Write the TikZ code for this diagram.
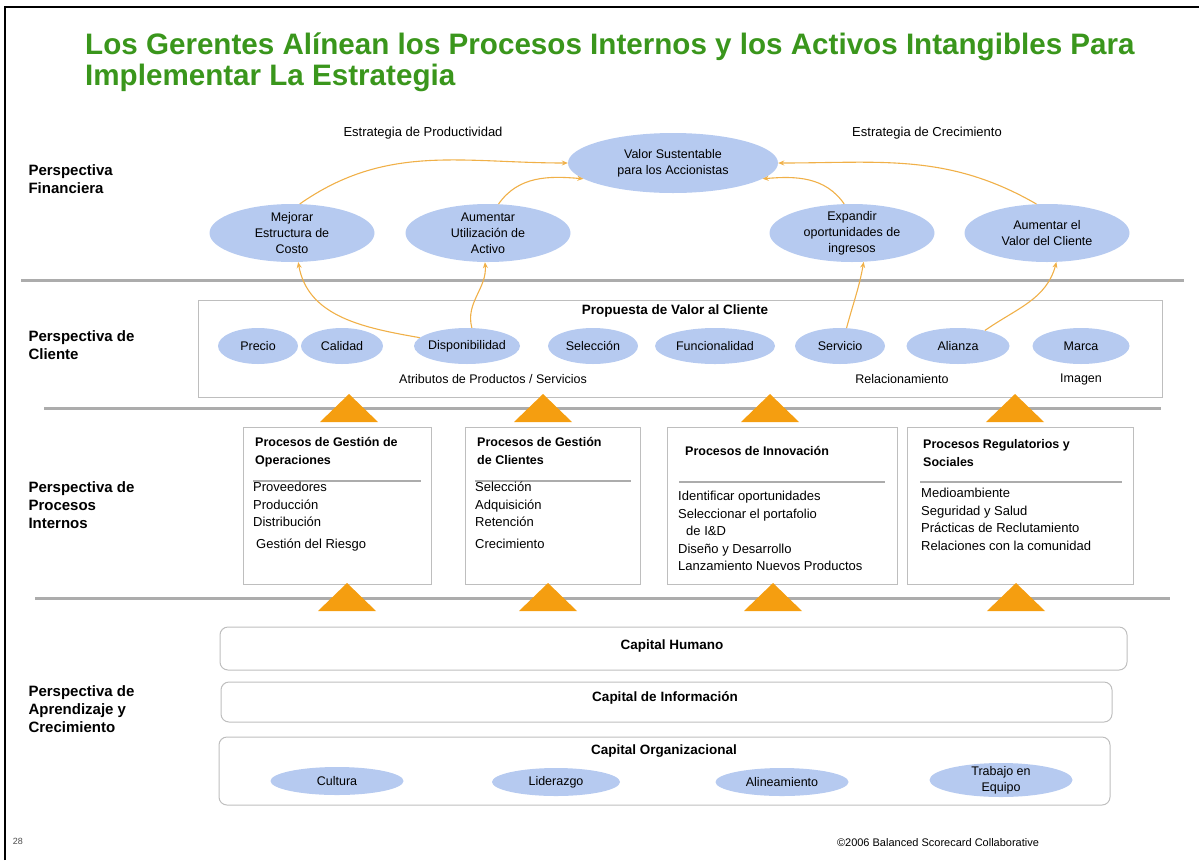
\documentclass[tikz,border=0pt]{standalone}
\usepackage{fontspec}
\setmainfont{Liberation Sans}
\usetikzlibrary{shapes.geometric,arrows.meta}
\definecolor{verdetitulo}{RGB}{58,150,28}
\definecolor{azulelipse}{RGB}{182,202,240}
\definecolor{naranjaflecha}{RGB}{240,176,72}
\definecolor{naranjatri}{RGB}{245,158,16}
\definecolor{grislinea}{RGB}{172,172,172}
\definecolor{grisborde}{RGB}{190,190,190}
\begin{document}
\begin{tikzpicture}[x=1pt, y=1pt,
        elipse/.style={ellipse, fill=azulelipse, inner sep=-2pt, align=center, font=\fontsize{12.5}{16}\selectfont},
        perspectiva/.style={anchor=west, align=left, font=\bfseries\fontsize{15}{18}\selectfont},
        caja/.style={draw=grisborde, line width=1pt, inner sep=0pt},
        capital/.style={draw=grisborde, line width=1pt, rounded corners=8pt, inner sep=0pt},
        titcaja/.style={anchor=north west, align=left, inner sep=0pt, font=\bfseries\fontsize{12.5}{18}\selectfont},
        items/.style={anchor=north west, align=left, inner sep=0pt, font=\fontsize{13}{17.5}\selectfont},
        flecha/.style={draw=naranjaflecha, line width=1.1pt, -{Stealth[length=6pt, width=5pt]}},
        separador/.style={draw=grislinea, line width=3pt},
        subrayado/.style={draw=grislinea, line width=2pt}]
    \useasboundingbox (0,0) rectangle (1199,-860);
    \draw[line width=2pt] (5,-860) -- (5,-7) -- (1199,-7);

    \node[anchor=north west, align=left, inner sep=0pt, text=verdetitulo, font=\bfseries\fontsize{29.6}{31}\selectfont] (titulo) at (85,-33)
        {Los Gerentes Alínean los Procesos Internos y los Activos Intangibles Para\\Implementar La Estrategia};

    \node[font=\fontsize{13}{16}\selectfont] (productividad) at (423,-133) {Estrategia de Productividad};
    \node[font=\fontsize{13}{16}\selectfont] (crecimiento) at (927,-133) {Estrategia de Crecimiento};

    \node[perspectiva] (pfin) at (25,-179) {Perspectiva\\Financiera};
    \node[perspectiva] (pcli) at (25,-345) {Perspectiva de\\Cliente};
    \node[perspectiva] (ppro) at (25,-505) {Perspectiva de\\Procesos\\Internos};
    \node[perspectiva] (papr) at (25,-709) {Perspectiva de\\Aprendizaje y\\Crecimiento};

    \node[elipse, minimum width=210, minimum height=60] (valor) at (673,-163) {Valor Sustentable\\para los Accionistas};
    \node[elipse, minimum width=165, minimum height=58] (mejorar) at (292,-233) {Mejorar\\Estructura de\\Costo};
    \node[elipse, minimum width=165, minimum height=58] (utilizacion) at (488,-233) {Aumentar\\Utilización de\\Activo};
    \node[elipse, minimum width=165, minimum height=58] (expandir) at (852,-233) {Expandir\\oportunidades de\\ingresos};
    \node[elipse, minimum width=165, minimum height=58] (valorcliente) at (1047,-233) {Aumentar el\\Valor del Cliente};

    \draw[separador] (21,-280) -- (1184,-280);

    \node[caja, minimum width=964, minimum height=97] (propuesta) at (680,-348.5) {};
    \node[font=\bfseries\fontsize{13.5}{16}\selectfont] (propuestatit) at (675,-311) {Propuesta de Valor al Cliente};
    \node[elipse, minimum width=80, minimum height=36] (precio) at (258,-346) {Precio};
    \node[elipse, minimum width=82, minimum height=36] (calidad) at (342,-346) {Calidad};
    \node[elipse, minimum width=106, minimum height=36] (disponibilidad) at (467,-346) {Disponibilidad};
    \node[elipse, minimum width=90, minimum height=36] (seleccion) at (593,-346) {Selección};
    \node[elipse, minimum width=120, minimum height=36] (funcionalidad) at (715,-346) {Funcionalidad};
    \node[elipse, minimum width=90, minimum height=36] (servicio) at (840,-346) {Servicio};
    \node[elipse, minimum width=103, minimum height=36] (alianza) at (958,-346) {Alianza};
    \node[elipse, minimum width=97, minimum height=36] (marca) at (1081,-346) {Marca};
    \node[font=\fontsize{12.5}{15}\selectfont] (atributos) at (493,-379) {Atributos de Productos / Servicios};
    \node[font=\fontsize{12.5}{15}\selectfont] (relacion) at (902,-379) {Relacionamiento};
    \node[font=\fontsize{12.5}{15}\selectfont] (imagen) at (1081,-379) {Imagen};

    \draw[flecha] (mejorar.75) to[out=35, in=180] (valor.west);
    \draw[flecha] (utilizacion.70) to[out=55, in=175] (valor.190);
    \draw[flecha] (expandir.105) to[out=125, in=5] (valor.-10);
    \draw[flecha] (valorcliente.110) to[out=150, in=0] (valor.east);
    \draw[flecha] (disponibilidad.170) to[out=170, in=-80] (mejorar.-78);
    \draw[flecha] (disponibilidad.75) to[out=105, in=-85] (utilizacion.-96);
    \draw[flecha] (servicio.70) to[out=75, in=-100] (expandir.-68);
    \draw[flecha] (alianza.30) to[out=35, in=-105] (valorcliente.-72);

    \draw[separador] (44,-408) -- (1161,-408);

    \fill[naranjatri] (320,-422) -- (349,-394) -- (378,-422) -- cycle;
    \fill[naranjatri] (514,-422) -- (543,-394) -- (572,-422) -- cycle;
    \fill[naranjatri] (741,-422) -- (770,-394) -- (799,-422) -- cycle;
    \fill[naranjatri] (986,-422) -- (1015,-394) -- (1044,-422) -- cycle;

    \node[caja, minimum width=188, minimum height=157] (operaciones) at (337,-505.5) {};
    \node[caja, minimum width=175, minimum height=157] (clientes) at (552.5,-505.5) {};
    \node[caja, minimum width=230, minimum height=157] (innovacion) at (782,-505.5) {};
    \node[caja, minimum width=226, minimum height=157] (regulatorios) at (1020,-505.5) {};

    \node[titcaja] (opertit) at (255,-437) {Procesos de Gestión de\\Operaciones};
    \node[titcaja] (clitit) at (477,-437) {Procesos de Gestión\\de Clientes};
    \node[titcaja] (innotit) at (685,-446) {Procesos de Innovación};
    \node[titcaja] (regutit) at (923,-439) {Procesos Regulatorios y\\Sociales};
    \draw[subrayado] (253,-481) -- (421,-481);
    \draw[subrayado] (475,-481) -- (631,-481);
    \draw[subrayado] (679,-482) -- (885,-482);
    \draw[subrayado] (920,-482) -- (1122,-482);

    \node[items] (operitems) at (253,-482) {Proveedores\\Producción\\Distribución\\[4pt]\hspace*{3pt}Gestión del Riesgo};
    \node[items] (cliitems) at (475,-482) {Selección\\Adquisición\\Retención\\[4pt]Crecimiento};
    \node[items] (innoitems) at (678,-491) {Identificar oportunidades\\Seleccionar el portafolio\\\hspace*{8pt}de I\&D\\Diseño y Desarrollo\\Lanzamiento Nuevos Productos};
    \node[items] (reguitems) at (921,-488) {Medioambiente\\Seguridad y Salud\\Prácticas de Reclutamiento\\Relaciones con la comunidad};

    \draw[separador] (35,-598) -- (1170,-598);

    \fill[naranjatri] (318,-611) -- (347,-583) -- (376,-611) -- cycle;
    \fill[naranjatri] (519,-611) -- (548,-583) -- (577,-611) -- cycle;
    \fill[naranjatri] (744,-611) -- (773,-583) -- (802,-611) -- cycle;
    \fill[naranjatri] (987,-611) -- (1016,-583) -- (1045,-611) -- cycle;

    \node[capital, minimum width=907, minimum height=43] (humano) at (673.5,-648.5) {};
    \node[capital, minimum width=891, minimum height=40] (informacion) at (666.5,-702) {};
    \node[capital, minimum width=891, minimum height=68] (organizacional) at (664.5,-771) {};
    \node[font=\bfseries\fontsize{13.5}{16}\selectfont] (humanotit) at (672,-646) {Capital Humano};
    \node[font=\bfseries\fontsize{13.5}{16}\selectfont] (informaciontit) at (665,-698) {Capital de Información};
    \node[font=\bfseries\fontsize{13.5}{16}\selectfont] (organizacionaltit) at (664,-751) {Capital Organizacional};
    \node[elipse, minimum width=133, minimum height=28] (cultura) at (337,-781) {Cultura};
    \node[elipse, minimum width=128, minimum height=28] (liderazgo) at (556,-782) {Liderazgo};
    \node[elipse, minimum width=133, minimum height=28] (alineamiento) at (782,-782) {Alineamiento};
    \node[elipse, minimum width=143, minimum height=34] (equipo) at (1001,-780) {Trabajo en\\Equipo};

    \node[text=black!70, font=\fontsize{9}{10}\selectfont] (pagina) at (18,-841) {28};
    \node[font=\fontsize{11}{13}\selectfont] (derechos) at (938,-843) {©2006 Balanced Scorecard Collaborative};
\end{tikzpicture}
\end{document}
